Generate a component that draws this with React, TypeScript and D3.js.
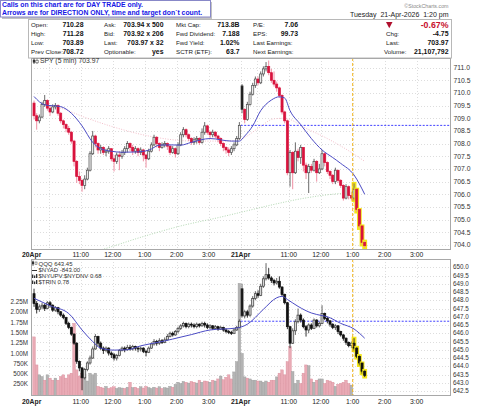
import React from "react";
import * as d3 from "d3";

// ---------------- DATA ----------------
const spyDayOpen = [709.6, 710.28];
const qqqDayOpen = [648.4, 648.7];
const dayStartBars = [0, 78];

const spyClose = [
  709.10, 708.90, 709.05, 709.55, 709.70, 709.40, 709.25, 709.45, 709.50, 709.20,
  708.90, 708.75, 708.60, 708.45, 708.10, 707.30, 706.70, 706.55, 706.35, 706.60,
  706.95, 707.60, 708.30, 708.00, 707.75, 707.85, 707.65, 707.70, 707.80, 707.40,
  707.30, 707.55, 707.50, 707.65, 707.80, 708.00, 707.85, 707.70, 707.80, 707.65,
  707.75, 707.55, 707.40, 707.70, 707.95, 708.25, 708.00, 707.85, 707.95, 708.00,
  707.90, 707.65, 707.80, 707.60, 707.95, 708.35, 708.55, 708.35, 708.20, 708.05,
  708.15, 708.20, 708.05, 708.45, 708.70, 708.45, 708.35, 708.45, 708.30, 708.20,
  708.00, 707.85, 707.75, 707.65, 707.80, 707.95, 708.20, 708.72,
  709.35, 708.95, 709.55, 709.95, 710.30, 710.55, 710.40, 710.75, 710.95, 711.05,
  710.80, 710.50, 710.35, 710.20, 709.90, 709.25, 708.90, 706.85, 707.65, 706.85,
  707.70, 707.45, 707.85, 707.15, 706.85, 707.10, 706.95, 707.30, 706.85, 707.00,
  707.60, 707.25, 706.90, 706.75, 706.50, 706.95, 706.55, 706.35, 705.85, 706.30,
  705.95, 705.85, 706.20, 705.40, 704.75, 704.10, 703.97,
];
const spyHigh = [
  709.70, 709.20, 709.15, 709.65, 709.92, 709.75, 709.50, 709.55, 709.60, 709.55,
  709.25, 708.95, 708.80, 708.70, 708.50, 708.15, 707.35, 706.90, 706.60, 706.75,
  707.05, 707.70, 708.50, 708.35, 708.05, 707.95, 707.90, 707.80, 707.90, 707.80,
  707.55, 707.65, 707.70, 707.75, 707.90, 708.10, 708.05, 707.95, 707.90, 707.85,
  707.85, 707.80, 707.60, 707.80, 708.05, 708.35, 708.30, 708.05, 708.05, 708.10,
  708.05, 707.95, 707.90, 707.85, 708.05, 708.45, 708.65, 708.60, 708.40, 708.25,
  708.25, 708.30, 708.25, 708.60, 708.85, 708.75, 708.50, 708.55, 708.50, 708.35,
  708.25, 708.05, 707.90, 707.85, 707.90, 708.05, 708.30, 708.85,
  710.35, 709.40, 709.65, 710.05, 710.40, 710.65, 710.65, 710.85, 711.05, 711.22,
  711.28, 710.95, 710.85, 710.45, 710.25, 709.95, 709.30, 708.95, 707.75, 707.70,
  708.05, 707.80, 707.95, 707.85, 707.25, 707.20, 707.20, 707.40, 707.35, 707.20,
  707.75, 707.65, 707.30, 706.95, 706.80, 707.05, 706.95, 706.60, 706.40, 706.40,
  706.35, 706.10, 706.43, 706.20, 705.40, 704.75, 704.15,
];
const spyLow = [
  708.95, 708.55, 708.80, 709.00, 709.45, 709.30, 709.10, 709.20, 709.35, 709.10,
  708.80, 708.60, 708.45, 708.35, 708.00, 707.10, 706.45, 706.40, 706.10, 706.20,
  706.55, 706.90, 707.55, 707.85, 707.60, 707.60, 707.55, 707.50, 707.60, 707.30,
  706.90, 707.20, 706.95, 707.40, 707.55, 707.65, 707.70, 707.55, 707.60, 707.50,
  707.55, 707.30, 707.05, 707.35, 707.65, 707.90, 707.85, 707.70, 707.80, 707.85,
  707.75, 707.55, 707.60, 707.45, 707.55, 707.90, 708.25, 708.25, 708.10, 707.95,
  707.95, 708.00, 707.95, 708.00, 708.35, 708.35, 708.20, 708.25, 708.20, 708.05,
  707.90, 707.70, 707.60, 707.50, 707.55, 707.70, 707.90, 708.15,
  709.20, 708.80, 708.90, 709.50, 709.90, 710.20, 710.30, 710.35, 710.65, 710.85,
  710.70, 710.40, 710.25, 710.05, 709.80, 709.15, 708.80, 706.75, 706.30, 706.20,
  706.80, 707.30, 707.20, 706.90, 706.60, 706.05, 706.85, 706.90, 706.50, 706.80,
  706.95, 707.10, 706.80, 706.60, 706.40, 706.40, 706.45, 706.25, 705.75, 705.80,
  705.80, 705.75, 705.75, 705.30, 704.65, 704.00, 703.89,
];

const qqqClose = [
  647.80, 647.45, 647.60, 647.70, 647.50, 647.85, 647.70, 647.40, 647.55, 647.30,
  647.10, 646.95, 646.60, 646.35, 645.95, 645.40, 644.30, 643.90, 643.30, 643.80,
  644.20, 644.50, 645.05, 645.80, 645.40, 645.10, 644.95, 645.10, 644.80, 644.70,
  644.50, 644.65, 644.95, 645.10, 645.00, 645.15, 645.05, 645.20, 645.10, 645.05,
  645.10, 644.90, 644.85, 645.10, 645.35, 645.50, 645.40, 645.55, 645.45, 645.60,
  645.80, 646.00, 645.90, 646.10, 646.30, 646.45, 646.60, 646.40, 646.55, 646.50,
  646.40, 646.55, 646.45, 646.60, 646.50, 646.35, 646.45, 646.30, 646.40, 646.25,
  646.35, 646.20, 646.10, 646.05, 646.00, 646.20, 646.35, 646.73,
  647.05, 647.30, 647.10, 647.65, 648.10, 648.40, 648.30, 648.85, 649.30, 649.55,
  649.35, 649.20, 649.05, 649.15, 648.80, 648.35, 647.85, 646.40, 645.40, 646.15,
  646.70, 647.10, 646.80, 646.40, 646.20, 646.50, 646.30, 646.80, 646.45, 646.60,
  647.20, 646.90, 646.75, 646.55, 646.35, 646.45, 646.10, 645.90, 645.70, 645.45,
  645.25, 645.40, 645.10, 644.60, 644.20, 643.70, 643.45,
];
const qqqHigh = [
  648.70, 647.95, 647.75, 647.85, 647.80, 647.95, 647.95, 647.75, 647.65, 647.60,
  647.35, 647.20, 647.00, 646.70, 646.40, 646.00, 645.45, 644.35, 643.95, 643.90,
  644.30, 644.65, 645.20, 645.95, 645.85, 645.50, 645.20, 645.20, 645.15, 644.90,
  644.80, 644.75, 645.05, 645.20, 645.20, 645.30, 645.30, 645.30, 645.25, 645.20,
  645.20, 645.15, 645.00, 645.20, 645.45, 645.65, 645.60, 645.70, 645.65, 645.75,
  645.95, 646.10, 646.10, 646.20, 646.40, 646.55, 646.70, 646.65, 646.65, 646.65,
  646.60, 646.65, 646.60, 646.70, 646.70, 646.60, 646.55, 646.50, 646.50, 646.45,
  646.45, 646.40, 646.30, 646.20, 646.15, 646.30, 646.45, 646.85,
  649.00, 647.40, 647.40, 647.75, 648.25, 648.55, 648.60, 649.00, 649.45, 650.25,
  649.95, 649.45, 649.30, 649.35, 649.45, 648.85, 648.40, 647.90, 646.45, 646.30,
  646.85, 647.50, 647.20, 646.90, 646.50, 646.60, 646.60, 646.90, 646.85, 646.70,
  647.70, 647.25, 647.00, 646.80, 646.60, 646.55, 646.50, 646.15, 645.95, 645.75,
  645.50, 645.50, 645.70, 645.15, 644.65, 644.20, 643.75,
];
const qqqLow = [
  647.60, 647.20, 647.30, 647.45, 647.35, 647.45, 647.55, 647.30, 647.30, 647.15,
  647.00, 646.85, 646.50, 646.25, 645.85, 645.30, 644.15, 643.70, 642.55, 643.20,
  643.70, 644.10, 644.45, 645.00, 645.20, 645.00, 644.75, 644.85, 644.65, 644.50,
  644.35, 644.35, 644.60, 644.90, 644.85, 644.95, 644.95, 644.95, 644.95, 644.85,
  644.90, 644.80, 644.60, 644.80, 645.05, 645.25, 645.25, 645.30, 645.35, 645.40,
  645.55, 645.75, 645.80, 645.85, 646.00, 646.20, 646.35, 646.30, 646.30, 646.35,
  646.30, 646.30, 646.35, 646.40, 646.35, 646.25, 646.25, 646.20, 646.25, 646.15,
  646.20, 646.10, 646.00, 645.95, 645.90, 645.95, 646.15, 646.30,
  646.95, 646.90, 646.95, 647.00, 647.55, 648.00, 648.15, 648.25, 648.75, 649.20,
  649.25, 649.05, 648.90, 648.95, 648.70, 648.25, 647.75, 646.25, 645.10, 645.35,
  645.90, 646.60, 646.65, 646.30, 645.80, 646.00, 646.20, 646.25, 646.35, 646.35,
  646.55, 646.80, 646.60, 646.40, 646.25, 646.20, 645.95, 645.80, 645.55, 645.30,
  645.15, 645.10, 644.95, 644.50, 644.05, 643.55, 643.35,
];

// volume in thousands
const volume = [
  1400, 720, 480, 440, 350, 480, 400, 350, 400, 350,
  440, 480, 400, 480, 520, 1730, 600, 450, 520, 500,
  330, 520, 480, 520, 200, 180, 160, 200, 150, 170,
  190, 150, 170, 160, 150, 180, 300, 170, 180, 150,
  190, 160, 200, 170, 150, 180, 160, 190, 150, 170,
  160, 200, 180, 250, 300, 270, 320, 300, 280, 320,
  300, 280, 350, 300, 330, 320, 300, 350, 330, 380,
  450, 360, 420, 480, 380, 550, 800, 2700,
  1000, 430, 400, 380, 350, 350, 330, 330, 300, 330,
  300, 350, 350, 430, 520, 600, 480, 800, 1160, 560,
  270, 350, 270, 520, 720, 700, 380, 300, 350, 380,
  380, 270, 350, 330, 300, 200, 250, 270, 300, 350,
  270, 230,
];

// moving averages read at selected bars
const spyMaBars = [0, 4, 10, 14, 18, 22, 25, 29, 33, 38, 43, 47, 51, 55, 59, 66, 74, 77, 79, 82, 85, 89, 92, 94, 96, 100, 104, 108, 112, 115, 120, 124];
const spyMaVals = [709.86, 709.53, 709.46, 709.2, 708.7, 708.05, 707.8, 707.7, 707.66, 707.67, 707.74, 707.94, 707.95, 707.94, 708.05, 708.2, 708.1, 708.1, 708.3, 708.7, 709.3, 709.72, 709.85, 709.8, 709.3, 708.75, 708.2, 707.75, 707.45, 707.22, 706.76, 706.0];
const spyMa2Bars = [6, 10, 20, 30, 44, 60, 72, 78, 84, 90, 94, 102, 110, 119, 124];
const spyMa2Vals = [709.5, 709.4, 709.0, 708.65, 708.28, 708.1, 708.1, 708.2, 708.6, 708.98, 709.0, 708.6, 708.2, 707.65, 707.3];
const spyMa3Bars = [20, 25, 40, 55, 70, 78, 90, 100, 110, 117];
const spyMa3Vals = [703.65, 703.8, 704.3, 704.75, 705.1, 705.3, 705.6, 705.82, 705.98, 706.05];
const qqqMaBars = [0, 6, 13, 18, 22, 25, 30, 35, 40, 48, 52, 59, 66, 76, 80, 86, 91, 93, 95, 99, 104, 108, 110, 115, 120, 124];
const qqqMaVals = [648.12, 647.67, 647.2, 646.2, 645.5, 645.1, 644.98, 645.0, 645.24, 645.5, 645.65, 645.92, 646.2, 646.32, 646.55, 647.45, 648.15, 648.24, 648.05, 647.63, 647.23, 647.07, 647.0, 646.6, 646.26, 645.7];

const spyPrevClose = 708.72;
const qqqPrevClose = 646.73;
const highlightFrom = 120;

const spyTicks = [704.0, 704.5, 705.0, 705.5, 706.0, 706.5, 707.0, 707.5, 708.0, 708.5, 709.0, 709.5, 710.0, 710.5, 711.0];
const qqqTicks = [642.5, 643.0, 643.5, 644.0, 644.5, 645.0, 645.5, 646.0, 646.5, 647.0, 647.5, 648.0, 648.5, 649.0, 649.5, 650.0];
const volTicks = [250, 500, 750, 1000, 1250, 1500, 1750, 2000, 2250];
const volTickLabels = ["250K", "500K", "750K", "1.00M", "1.25M", "1.50M", "1.75M", "2.00M", "2.25M"];
const timeLabels = ["20Apr", "11:00", "12:00", "1:00", "2:00", "3:00", "21Apr", "11:00", "12:00", "1:00", "2:00", "3:00"];
const timeLabelSlots = [0, 18, 30, 42, 54, 66, 78, 96, 108, 120, 132, 144];
const gridSlots = [6, 18, 30, 42, 54, 66, 78, 84, 96, 108, 120, 132, 144];

const infoLabels = [
  ["Open:", "High:", "Low:", "Prev Close:"],
  ["Ask:", "Bid:", "Last:", "Optionable:"],
  ["Mkt Cap:", "Fwd Dividend:", "Fwd Yield:", "SCTR (ETF):"],
  ["P/E:", "EPS:", "Last Earnings:", "Next Earnings:"],
];
const infoValues = [
  ["710.28", "711.28", "703.89", "708.72"],
  ["703.94 x 500", "703.92 x 206", "703.97 x 32", "yes"],
  ["713.8B", "7.188", "1.02%", "63.7"],
  ["7.06", "99.73", "", ""],
];
const quoteLabels = ["Chg:", "Last:", "Volume:"];
const quoteValues = ["-4.75", "703.97", "21,107,792"];

// ---------------- LAYOUT ----------------
const FONT = "'Liberation Sans', Arial, Helvetica, sans-serif";
const L = 31, R = 451;
const P1 = { top: 58, bottom: 250 };
const P2 = { top: 259, bottom: 396 };
const RED = "#d8123c";

function opensFrom(close: number[], dayOpen: number[]) {
  return close.map((c, i) => {
    const d = dayStartBars.indexOf(i);
    return d >= 0 ? dayOpen[d] : close[i - 1];
  });
}

export default function App() {
  const xs = d3.scaleLinear().domain([0, 156]).range([32.7, 448.7]);
  const cx = (i: number) => xs(i + 0.5);
  const y1 = d3.scaleLinear().domain([703.8, 711.38]).range([P1.bottom, P1.top]);
  const y2 = d3.scaleLinear().domain([642.2, 650.5]).range([P2.bottom, P2.top]);
  const yv = d3.scaleLinear().domain([0, 3300]).range([394.6, 258.6]);

  const spyOpen = opensFrom(spyClose, spyDayOpen);
  const qqqOpen = opensFrom(qqqClose, qqqDayOpen);

  const maLine = (bars: number[], vals: number[], y: d3.ScaleLinear<number, number>) =>
    d3.line<number>().x((_, k) => cx(bars[k])).y((v) => y(v)).curve(d3.curveMonotoneX)(vals) || "";

  const grid = (p: { top: number; bottom: number }, ticks: number[], y: d3.ScaleLinear<number, number>) => (
    <g stroke="#d4d4d4" strokeWidth={0.8} strokeDasharray="1,2">
      {ticks.map((t) => (
        <line key={"h" + t} x1={L} x2={R} y1={Math.round(y(t)) + 0.5} y2={Math.round(y(t)) + 0.5} />
      ))}
      {gridSlots.map((s) => (
        <line key={"v" + s} x1={Math.round(xs(s)) + 0.5} x2={Math.round(xs(s)) + 0.5} y1={p.top} y2={p.bottom} />
      ))}
    </g>
  );

  const candles = (
    open: number[], high: number[], low: number[], close: number[],
    y: d3.ScaleLinear<number, number>, kind: "spy" | "qqq"
  ) =>
    close.map((c, i) => {
      const o = open[i];
      const prev = i > 0 ? close[i - 1] : o;
      const down = c < prev;
      const x = cx(i);
      const top = y(Math.max(o, c));
      const bot = y(Math.min(o, c));
      const h = Math.max(bot - top, 0.9);
      const filled = c < o;
      let fill: string, stroke: string, wick: string;
      if (kind === "spy") {
        if (down) { fill = filled ? RED : "#fff"; stroke = RED; wick = "#ef8fa3"; }
        else { fill = filled ? "#111" : "#ececec"; stroke = "#4d4d4d"; wick = "#6a6a6a"; }
      } else {
        if (down) { fill = filled ? "#111" : "#fff"; stroke = "#111"; wick = "#333"; }
        else { fill = filled ? "#111" : "#d6d6d6"; stroke = "#3a3a3a"; wick = "#666"; }
      }
      return (
        <g key={i}>
          {i >= highlightFrom && (
            <rect x={x - 2.4} width={4.8} y={y(high[i]) - 1.5} height={y(low[i]) - y(high[i]) + 3} fill="#f3e61a" />
          )}
          <line x1={x} x2={x} y1={y(high[i])} y2={y(low[i])} stroke={wick} strokeWidth={1} />
          <rect x={x - 1.05} width={2.1} y={top} height={h} fill={fill} stroke={stroke} strokeWidth={0.7} />
        </g>
      );
    });

  const rows = [27.3, 36.1, 45, 53.8];
  const labelX = [31, 104, 176, 253];
  const valueX = [83.5, 163.5, 239.5, 298];

  return (
    <svg width={480} height={406} style={{ position: "absolute", left: 0, top: 0, background: "#fff" }} fontFamily={FONT}>
      <defs>
        <clipPath id="c1"><rect x={L} y={P1.top} width={R - L} height={P1.bottom - P1.top} /></clipPath>
        <clipPath id="c2"><rect x={L} y={P2.top} width={R - L} height={P2.bottom - P2.top} /></clipPath>
      </defs>
      <rect width={480} height={406} fill="#fff" />

      {/* header info table */}
      <rect x={28.5} y={19.5} width={423} height={38.5} fill="#fff" stroke="#b8b8b8" strokeWidth={1} />
      <text x={448.5} y={7.5} fontSize={5.3} fill="#8a8a8a" textAnchor="end">©StockCharts.com</text>
      <text x={448.5} y={17.3} fontSize={7} fill="#222" textAnchor="end" xmlSpace="preserve">Tuesday  21-Apr-2026  1:20 pm</text>
      {infoLabels.map((col, c) =>
        col.map((t, r) => (
          <text key={"l" + c + r} x={labelX[c]} y={rows[r]} fontSize={6.2} fill="#222">{t}</text>
        ))
      )}
      {infoValues.map((col, c) =>
        col.map((t, r) => (
          <text key={"v" + c + r} x={valueX[c]} y={rows[r]} fontSize={6.9} fontWeight="bold" fill="#111" textAnchor="end">{t}</text>
        ))
      )}
      <path d="M386,22 L392.5,22 L389.25,28.3 Z" fill="#b0102e" />
      <text x={448.5} y={28.3} fontSize={8.8} fontWeight="bold" fill="#c8102e" textAnchor="end">-0.67%</text>
      {quoteLabels.map((t, r) => (
        <text key={"ql" + r} x={r === 2 ? 384 : 386} y={rows[r + 1]} fontSize={6.2} fill="#222">{t}</text>
      ))}
      {quoteValues.map((t, r) => (
        <text key={"qv" + r} x={448.5} y={rows[r + 1]} fontSize={6.9} fontWeight="bold" fill="#111" textAnchor="end">{t}</text>
      ))}

      {/* blue notice box */}
      <rect x={2} y={2} width={210} height={17} fill="#9a9a9a" opacity={0.6} />
      <rect x={0.5} y={0.5} width={210} height={16.5} fill="#fff" stroke="#8888c8" strokeWidth={1} />
      <text x={2} y={7.3} fontSize={6.85} fontWeight="bold" fill="#1515e6">Calls on this chart are for DAY TRADE only.</text>
      <text x={2} y={14.8} fontSize={6.85} fontWeight="bold" fill="#1515e6">Arrows are for DIRECTION ONLY, time and target don`t count.</text>

      {/* ---------- panel 1 ---------- */}
      <rect x={L} y={P1.top} width={R - L} height={P1.bottom - P1.top} fill="#fff" />
      {grid(P1, spyTicks, y1)}
      <g clipPath="url(#c1)">
        <path d={maLine(spyMa3Bars, spyMa3Vals, y1)} fill="none" stroke="#a9d3a9" strokeWidth={0.9} strokeDasharray="1,1.5" />
        <path d={maLine(spyMa2Bars, spyMa2Vals, y1)} fill="none" stroke="#f2b8c4" strokeWidth={0.9} strokeDasharray="1,1.5" />
        <line x1={xs(78)} x2={R} y1={y1(spyPrevClose)} y2={y1(spyPrevClose)} stroke="#2b2bff" strokeWidth={0.9} strokeDasharray="2,1.5" />
        {candles(spyOpen, spyHigh, spyLow, spyClose, y1, "spy")}
        <path d={maLine(spyMaBars, spyMaVals, y1)} fill="none" stroke="#4b4bc4" strokeWidth={1} />
      </g>
      <line x1={xs(highlightFrom)} x2={xs(highlightFrom)} y1={P1.top} y2={P1.bottom} stroke="#f2b61c" strokeWidth={1} strokeDasharray="3,2" />
      <rect x={L + 0.5} y={P1.top + 0.5} width={R - L - 1} height={P1.bottom - P1.top - 1} fill="none" stroke="#a8a8a8" />
      {spyTicks.map((t) => (
        <text key={"t1" + t} x={453.5} y={y1(t) + 2.4} fontSize={6.8} fill="#333">{t.toFixed(1)}</text>
      ))}
      <g>
        <line x1={34} x2={34} y1={58.5} y2={64} stroke="#333" strokeWidth={0.8} />
        <rect x={32.8} y={59.8} width={2.4} height={2.8} fill="#333" />
        <line x1={37} x2={37} y1={58.5} y2={64} stroke="#666" strokeWidth={0.8} />
        <rect x={35.8} y={60.3} width={2.4} height={2.5} fill="#fff" stroke="#555" strokeWidth={0.6} />
      </g>
      <text x={40} y={63.2} fontSize={6.8} fill="#333">SPY (5 min) 703.97</text>

      {/* x labels between panels */}
      {timeLabels.map((t, k) => (
        <text key={"xa" + k} x={xs(timeLabelSlots[k]) - (k === 0 ? 1 : 0)} y={256.8} fontSize={6.8}
          fontWeight={t.includes("Apr") ? "bold" : "normal"} fill="#222" textAnchor="middle">{t}</text>
      ))}

      {/* ---------- panel 2 ---------- */}
      <rect x={L} y={P2.top} width={R - L} height={P2.bottom - P2.top} fill="#fff" />
      {grid(P2, qqqTicks, y2)}
      <g clipPath="url(#c2)">
        {volume.map((v, i) => {
          const prev = i > 0 ? qqqClose[i - 1] : qqqOpen[i];
          const dn = qqqClose[i] < prev;
          return (
            <rect key={"v" + i} x={cx(i) - 1.3} width={2.6} y={yv(v)} height={P2.bottom - yv(v)}
              fill={dn ? "#e9aab5" : "#b4b4b4"} stroke={dn ? "#d98e9c" : "#9c9c9c"} strokeWidth={0.4} />
          );
        })}
        <line x1={xs(78)} x2={R} y1={y2(qqqPrevClose)} y2={y2(qqqPrevClose)} stroke="#2b2bff" strokeWidth={0.9} strokeDasharray="2,1.5" />
        {candles(qqqOpen, qqqHigh, qqqLow, qqqClose, y2, "qqq")}
        <path d={maLine(qqqMaBars, qqqMaVals, y2)} fill="none" stroke="#4b4bc4" strokeWidth={1} />
      </g>
      <line x1={xs(highlightFrom)} x2={xs(highlightFrom)} y1={P2.top} y2={P2.bottom} stroke="#f2b61c" strokeWidth={1} strokeDasharray="3,2" />
      <rect x={L + 0.5} y={P2.top + 0.5} width={R - L - 1} height={P2.bottom - P2.top - 1} fill="none" stroke="#a8a8a8" />
      {qqqTicks.map((t) => (
        <text key={"t2" + t} x={453} y={y2(t) + 2.2} fontSize={6.3} fill="#333">{t.toFixed(1)}</text>
      ))}
      {volTicks.map((t, k) => (
        <text key={"tv" + t} x={28} y={yv(t) + 2.2} fontSize={6.3} fill="#333" textAnchor="end">{volTickLabels[k]}</text>
      ))}
      <g fontSize={6} fill="#333">
        <line x1={33} x2={33} y1={260.5} y2={266} stroke="#333" strokeWidth={0.7} />
        <rect x={32} y={261.5} width={2} height={2.8} fill="#333" />
        <rect x={35} y={262} width={2} height={2.4} fill="#fff" stroke="#444" strokeWidth={0.5} />
        <text x={38.5} y={266}>QQQ 643.45</text>
        <line x1={32} x2={37} y1={270.5} y2={270.5} stroke="#333" strokeWidth={1} />
        <text x={38.5} y={272.2}>$NYAD -843.00</text>
        <rect x={32} y={274.5} width={1.3} height={3.5} fill="#333" />
        <rect x={34} y={275.5} width={1.3} height={2.5} fill="#333" />
        <rect x={36} y={274} width={1.3} height={4} fill="#333" />
        <text x={38.5} y={278.3}>$NYUPV:$NYDNV 0.68</text>
        <rect x={32} y={280.5} width={1.3} height={3.5} fill="#333" />
        <rect x={34} y={281.5} width={1.3} height={2.5} fill="#333" />
        <rect x={36} y={280} width={1.3} height={4} fill="#333" />
        <text x={38.5} y={284.4}>$TRIN 0.78</text>
      </g>
      {timeLabels.map((t, k) => (
        <text key={"xb" + k} x={xs(timeLabelSlots[k]) - (k === 0 ? 1 : 0)} y={403.5} fontSize={6.8}
          fontWeight={t.includes("Apr") ? "bold" : "normal"} fill="#222" textAnchor="middle">{t}</text>
      ))}
    </svg>
  );
}
